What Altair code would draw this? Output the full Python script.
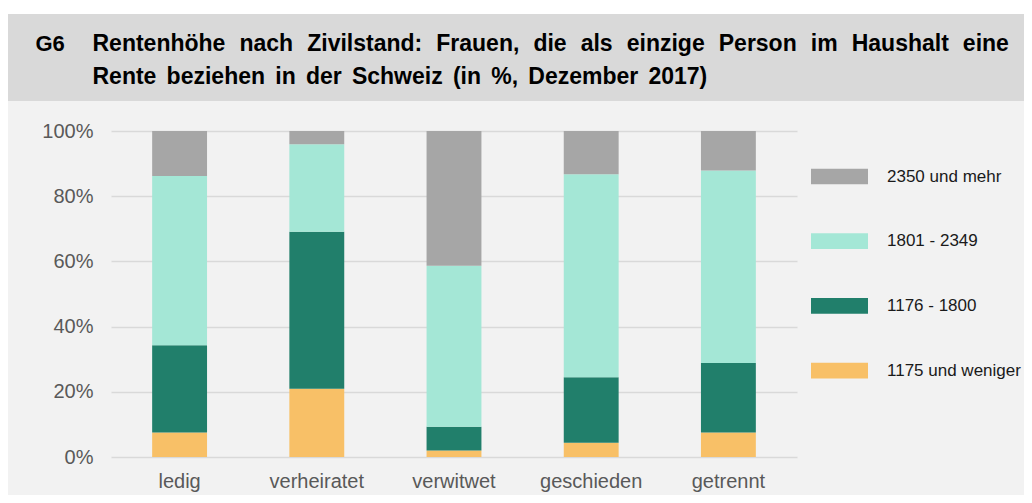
import altair as alt
import pandas as pd

categories = ["ledig", "verheiratet", "verwitwet", "geschieden", "getrennt"]
series_names = ["1175 und weniger", "1176 - 1800", "1801 - 2349", "2350 und mehr"]
s_low = [7.5, 20.9, 2.0, 4.4, 7.5]
s_mid = [26.8, 48.2, 7.3, 20.1, 21.3]
s_high = [51.9, 26.8, 49.4, 62.2, 59.1]
s_top = [13.8, 4.1, 41.3, 13.3, 12.1]
colors = ["#f8c067", "#217f6b", "#a4e7d6", "#a6a6a6"]
y_ticks = [0, 20, 40, 60, 80, 100]
title_tag = "G6"
title_lines = [
    "Rentenhöhe nach Zivilstand: Frauen, die als einzige Person im Haushalt eine",
    "Rente beziehen in der Schweiz (in %, Dezember 2017)",
]

rows = []
for i, cat in enumerate(categories):
    for k, (name, vals) in enumerate(zip(series_names, [s_low, s_mid, s_high, s_top])):
        rows.append({"Zivilstand": cat, "Klasse": name, "Wert": vals[i], "ord": k})
df = pd.DataFrame(rows)

FONT = "Liberation Sans"
legend_order = series_names[::-1]
legend_colors = colors[::-1]

# widen word gaps to imitate the justified title block
line1_text = title_lines[0].replace(" ", " \u2005\u200a")
line2_text = title_lines[1].replace(" ", " \u2006")

bars = alt.Chart(df).mark_bar().encode(
    x=alt.X("Zivilstand:N", sort=categories,
            scale=alt.Scale(paddingInner=0.6, paddingOuter=0.3),
            axis=alt.Axis(title=None, labelAngle=0, labelFontSize=20, labelColor="#595959",
                          labelFont=FONT, ticks=False, domain=False, labelPadding=14, grid=False)),
    y=alt.Y("Wert:Q", stack="zero", scale=alt.Scale(domain=[0, 100], nice=False),
            axis=alt.Axis(title=None, values=y_ticks, labelExpr="datum.value + '%'",
                          labelFontSize=20, labelColor="#595959", labelFont=FONT,
                          ticks=False, domain=False, labelPadding=18,
                          gridColor="#d9d9d9", gridWidth=1.5)),
    color=alt.Color("Klasse:N", scale=alt.Scale(domain=legend_order, range=legend_colors),
                    legend=alt.Legend(title=None, orient="none", legendX=700, legendY=17,
                                      symbolType="M-1,-0.275L1,-0.275L1,0.275L-1,0.275Z",
                                      symbolSize=3249, symbolStrokeWidth=0, symbolOpacity=1,
                                      labelOffset=19, rowPadding=27.7, padding=0,
                                      labelFontSize=17, labelFont=FONT, labelColor="#1a1a1a")),
    order=alt.Order("ord:Q", sort="ascending"),
)

one = pd.DataFrame({"a": [0]})

white_strip = alt.Chart(one).mark_rect(color="white").encode(
    x=alt.value(-103), x2=alt.value(913), y=alt.value(-123), y2=alt.value(-117))
header = alt.Chart(one).mark_rect(color="#d9d9d9").encode(
    x=alt.value(-103), x2=alt.value(913), y=alt.value(-117), y2=alt.value(-30))
tag = alt.Chart(one).mark_text(align="left", baseline="alphabetic", font=FONT,
                               fontSize=22, fontWeight="bold", color="#000000").encode(
    x=alt.value(-75.5), y=alt.value(-80), text=alt.value(title_tag))
line1 = alt.Chart(one).mark_text(align="left", baseline="alphabetic", font=FONT,
                                 fontSize=23, fontWeight="bold", color="#000000").encode(
    x=alt.value(-18.5), y=alt.value(-80), text=alt.value(line1_text))
line2 = alt.Chart(one).mark_text(align="left", baseline="alphabetic", font=FONT,
                                 fontSize=23, fontWeight="bold", color="#000000").encode(
    x=alt.value(-18.5), y=alt.value(-47.5), text=alt.value(line2_text))

chart = alt.layer(white_strip, header, bars, tag, line1, line2).properties(
    width=686, height=326,
    autosize=alt.AutoSizeParams(type="none"),
    padding={"left": 103, "top": 123, "right": 227, "bottom": 38},
    background="#f2f2f2",
).configure_view(stroke=None)

chart.save("out.html", embed_options={"renderer": "svg", "actions": False})
